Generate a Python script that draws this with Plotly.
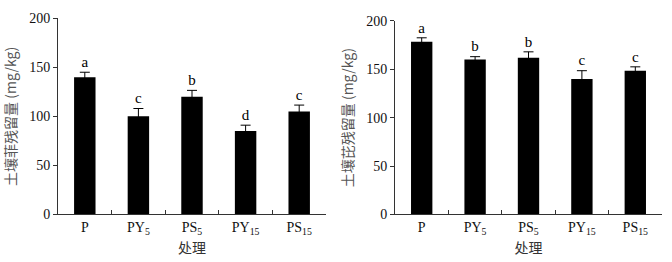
import plotly.graph_objects as go
from plotly.subplots import make_subplots

categories = ["P", "PY<sub>5</sub>", "PS<sub>5</sub>", "PY<sub>15</sub>", "PS<sub>15</sub>"]
phe_values = [140, 100, 120, 85, 105]
phe_errors = [5, 8, 6.5, 6, 6.5]
phe_letters = ["a", "c", "b", "d", "c"]
pyr_values = [178.5, 160, 162, 140, 148.5]
pyr_errors = [4, 3, 6, 8.5, 4]
pyr_letters = ["a", "b", "b", "c", "c"]
y_ticks = [0, 50, 100, 150, 200]

W, H = 672, 262
fig = make_subplots(rows=1, cols=2)

serif = "Liberation Serif, Times New Roman, serif"
cjk = "Noto Sans CJK SC"

for col, vals, errs, letters in [(1, phe_values, phe_errors, phe_letters),
                                 (2, pyr_values, pyr_errors, pyr_letters)]:
    fig.add_trace(go.Bar(
        x=categories, y=vals, width=0.4,
        marker=dict(color="black", line=dict(width=0)),
        error_y=dict(type="data", array=errs, color="black", thickness=1, width=5),
        showlegend=False), row=1, col=col)
    fig.add_trace(go.Scatter(
        x=categories, y=[v + e + 1.5 for v, e in zip(vals, errs)],
        mode="text", text=letters, textposition="top center",
        textfont=dict(family=serif, size=15, color="black"),
        showlegend=False, cliponaxis=False), row=1, col=col)

axis_common = dict(showline=True, linecolor="#333", linewidth=1, showgrid=False, zeroline=False,
                   tickfont=dict(family=serif, size=14, color="#111"))

fig.update_xaxes(**axis_common, type="category", range=[-0.5, 4.5], tickson="boundaries",
                 ticks="inside", ticklen=4, tickcolor="#333",
                 title=dict(text="处理", font=dict(family=cjk, size=14, color="#333"), standoff=7))
fig.update_yaxes(**axis_common, range=[0, 200], tickvals=y_ticks, ticks="outside",
                 ticklen=4, tickcolor="#333")

fig.update_yaxes(title=dict(text="土壤菲残留量 (mg/kg)", font=dict(family=cjk, size=14, color="#555"), standoff=9), row=1, col=1)
fig.update_yaxes(title=dict(text="土壤芘残留量 (mg/kg)", font=dict(family=cjk, size=14, color="#555"), standoff=9), row=1, col=2)

fig.update_layout(
    width=W, height=H, margin=dict(l=0, r=0, t=0, b=0),
    plot_bgcolor="white", paper_bgcolor="white", bargap=0.6,
    xaxis=dict(domain=[58 / W, 326 / W]),
    xaxis2=dict(domain=[395 / W, 662 / W]),
    yaxis=dict(domain=[1 - 220 / H, 1 - 12 / H]),
    yaxis2=dict(domain=[1 - 220 / H, 1 - 14.7 / H]),
)

fig.write_html("out.html")
